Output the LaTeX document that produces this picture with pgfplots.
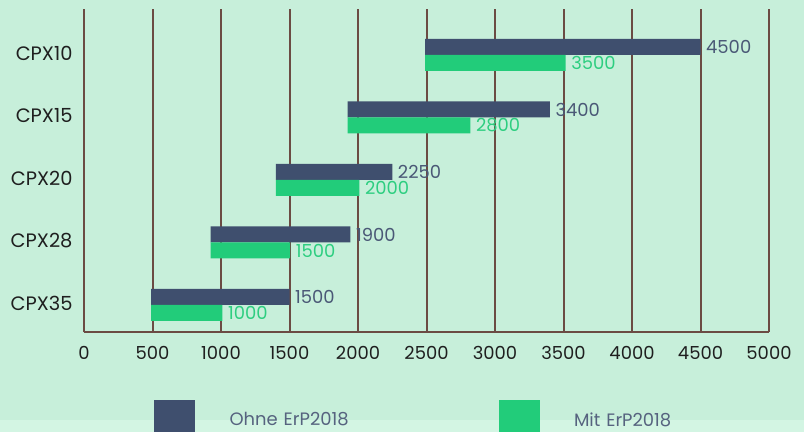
\documentclass[border=0pt]{standalone}
\usepackage{fontspec}
\setmainfont{Poppins}
\usepackage{pgfplots}
\usepackage{pgfplotstable}
\pgfplotsset{compat=1.18}

\definecolor{ohne}{HTML}{3F4F6E}
\definecolor{mit}{HTML}{22CC7A}
\definecolor{gridbrown}{HTML}{6B4B43}
\definecolor{bg}{HTML}{C7EFDA}
\definecolor{bgstrip}{HTML}{D3F5E3}
\definecolor{ohnetext}{HTML}{4A5876}
\definecolor{mittext}{HTML}{2DCE80}
\definecolor{legtext}{HTML}{56637F}

% pos: 0 = CPX35 ... 4 = CPX10; start/ohne/mit = bar ends as drawn
\pgfplotstableread{
pos start ohne mit ohnelab mitlab
4   2490  4500 3515 4500    3500
3   1925  3400 2820 3400    2800
2   1400  2250 2010 2250    2000
1   925   1945 1505 1900    1500
0   490   1500 1010 1500    1000
}\cpxdata

\newcommand{\lbl}{\fontsize{18}{21}\selectfont}

\pgfplotsset{
  base/.style={
    scale only axis, width=685bp, height=323bp,
    at={(84bp,100bp)}, anchor=south west,
    xmin=0, xmax=5000, ymin=-0.432, ymax=4.736,
    xbar, stack plots=x, bar width=16bp,
  },
}

\begin{document}
\begin{tikzpicture}
\fill[bg] (0,0) rectangle (804bp,432bp);
\fill[bgstrip] (0,0) rectangle (804bp,12bp);
\useasboundingbox (0,0) rectangle (804bp,432bp);

\begin{axis}[base, bar shift=8bp,
  axis x line*=bottom, axis y line*=left,
  axis line style={draw=gridbrown, line width=2bp, -},
  xtick={0,500,...,5000}, ytick={0,...,4},
  yticklabels={CPX35,CPX28,CPX20,CPX15,CPX10},
  xmajorgrids, grid style={draw=gridbrown, line width=2bp},
  major tick length=0pt,
  ticklabel style={font=\lbl, text=black!88},
  x tick label style={yshift=-11bp},
  y tick label style={xshift=-8bp, yshift=1.5bp, font=\fontsize{19.5}{22}\selectfont},
  /pgf/number format/assume math mode=true,
  /pgf/number format/1000 sep={},
  legend columns=2,
  legend style={draw=none, fill=none, at={(0.1022,-0.2724)}, anchor=west,
    inner sep=0pt, font=\lbl, text=legtext,
    nodes={inner sep=0pt, text width=269bp, align=left},
    /tikz/every odd column/.append style={column sep=35bp},
    /tikz/every even column/.append style={column sep=0bp}},
]
\addplot[draw=none, fill=none, forget plot] table[x=start, y=pos] {\cpxdata};
\addplot[fill=ohne, draw=none, forget plot,
  nodes near coords, point meta=explicit symbolic,
  every node near coord/.append style={font=\lbl, text=ohnetext,
    anchor=west, inner sep=5.5bp}]
  table[x expr=\thisrow{ohne}-\thisrow{start}, y=pos, meta=ohnelab] {\cpxdata};
\addlegendimage{legend image code/.code={\fill[ohne] (0bp,-20bp) rectangle (40bp,20bp);}}
\addlegendentry{Ohne ErP2018}
\addlegendimage{legend image code/.code={\fill[mit] (0bp,-20bp) rectangle (40bp,20bp);}}
\addlegendentry{Mit ErP2018}
\end{axis}

\begin{axis}[base, bar shift=-8bp, hide axis]
\addplot[draw=none, fill=none] table[x=start, y=pos] {\cpxdata};
\addplot[fill=mit, draw=none,
  nodes near coords, point meta=explicit symbolic,
  every node near coord/.append style={font=\lbl, text=mittext,
    anchor=west, inner sep=5.5bp}]
  table[x expr=\thisrow{mit}-\thisrow{start}, y=pos, meta=mitlab] {\cpxdata};
\end{axis}
\end{tikzpicture}
\end{document}
